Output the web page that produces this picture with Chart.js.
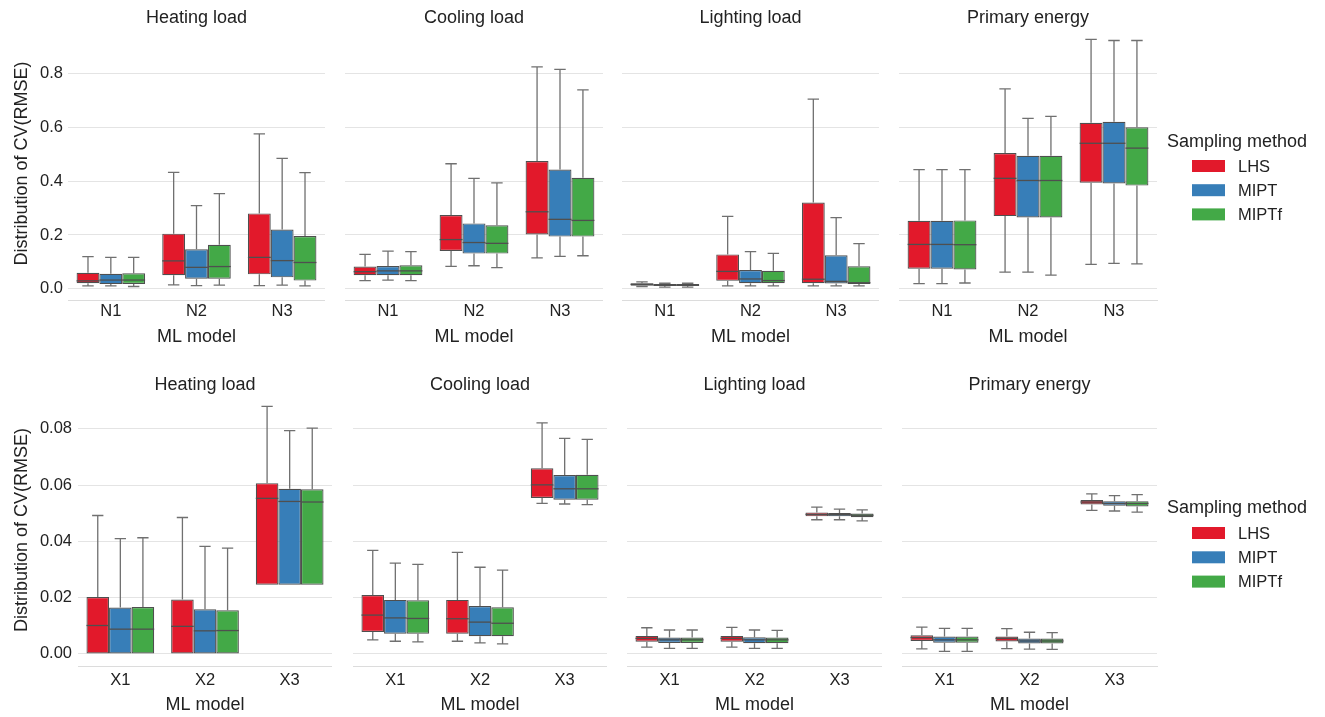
<!DOCTYPE html>
<html>
<head>
<meta charset="utf-8">
<script src="https://cdn.jsdelivr.net/npm/chart.js@4.4.1/dist/chart.umd.min.js"></script>
<style>
  html, body { margin: 0; padding: 0; background: #ffffff; width: 1325px; height: 717px; overflow: hidden; }
  canvas { position: absolute; display: block; }
</style>
</head>
<body>
<script>
// ---- Categories, groups and labels ----
const modelsN = ['N1', 'N2', 'N3'];
const modelsX = ['X1', 'X2', 'X3'];
const methods = ['LHS', 'MIPT', 'MIPTf'];
const targets = ['Heating load', 'Cooling load', 'Lighting load', 'Primary energy'];
const yTicksTop = [0, 0.2, 0.4, 0.6, 0.8];
const yTicksBottom = [0, 0.02, 0.04, 0.06, 0.08];

// ---- Box statistics per model: [lower whisker, Q1, median, Q3, upper whisker] ----
// N models
const heatingN_LHS   = [[0.011, 0.021, 0.030, 0.060, 0.120], [0.015, 0.051, 0.104, 0.205, 0.432], [0.012, 0.054, 0.117, 0.280, 0.575]];
const heatingN_MIPT  = [[0.011, 0.018, 0.033, 0.056, 0.117], [0.012, 0.038, 0.080, 0.147, 0.309], [0.014, 0.043, 0.105, 0.220, 0.484]];
const heatingN_MIPTf = [[0.009, 0.0185, 0.033, 0.058, 0.117], [0.014, 0.038, 0.083, 0.164, 0.353], [0.011, 0.031, 0.098, 0.196, 0.431]];

const coolingN_LHS   = [[0.031, 0.051, 0.064, 0.083, 0.128], [0.084, 0.141, 0.183, 0.274, 0.464], [0.115, 0.202, 0.286, 0.474, 0.823]];
const coolingN_MIPT  = [[0.033, 0.051, 0.067, 0.085, 0.140], [0.086, 0.131, 0.172, 0.243, 0.410], [0.121, 0.194, 0.258, 0.443, 0.814]];
const coolingN_MIPTf = [[0.031, 0.051, 0.067, 0.088, 0.138], [0.079, 0.131, 0.169, 0.236, 0.393], [0.123, 0.194, 0.254, 0.412, 0.738]];

const lightingN_LHS   = [[0.009, 0.012, 0.017, 0.021, 0.026], [0.011, 0.030, 0.065, 0.128, 0.269], [0.011, 0.021, 0.036, 0.320, 0.704]];
const lightingN_MIPT  = [[0.007, 0.011, 0.014, 0.018, 0.021], [0.011, 0.021, 0.037, 0.070, 0.138], [0.011, 0.020, 0.028, 0.125, 0.264]];
const lightingN_MIPTf = [[0.007, 0.011, 0.014, 0.018, 0.021], [0.011, 0.021, 0.031, 0.067, 0.132], [0.011, 0.0185, 0.023, 0.084, 0.168]];

const primaryN_LHS   = [[0.020, 0.075, 0.165, 0.253, 0.442], [0.062, 0.270, 0.410, 0.504, 0.742], [0.091, 0.394, 0.540, 0.616, 0.925]];
const primaryN_MIPT  = [[0.020, 0.075, 0.165, 0.253, 0.442], [0.062, 0.265, 0.402, 0.494, 0.632], [0.095, 0.391, 0.540, 0.620, 0.921]];
const primaryN_MIPTf = [[0.022, 0.072, 0.164, 0.254, 0.442], [0.051, 0.265, 0.402, 0.494, 0.640], [0.093, 0.383, 0.522, 0.599, 0.921]];

// X models
const heatingX_LHS   = [[0, 0, 0.0101, 0.0202, 0.0492], [0, 0, 0.0098, 0.0193, 0.0485], [0.0246, 0.0246, 0.0553, 0.0607, 0.0880]];
const heatingX_MIPT  = [[0, 0, 0.0088, 0.0165, 0.0410], [0, 0, 0.0082, 0.0159, 0.0382], [0.0246, 0.0246, 0.0542, 0.0587, 0.0794]];
const heatingX_MIPTf = [[0, 0, 0.0088, 0.0167, 0.0413], [0, 0, 0.0083, 0.0155, 0.0376], [0.0246, 0.0246, 0.0540, 0.0585, 0.0803]];

const coolingX_LHS   = [[0.0050, 0.0078, 0.0138, 0.0209, 0.0368], [0.0045, 0.0072, 0.0125, 0.0192, 0.0361], [0.0535, 0.0554, 0.0601, 0.0660, 0.0821]];
const coolingX_MIPT  = [[0.0045, 0.0072, 0.0128, 0.0192, 0.0323], [0.0039, 0.0063, 0.0113, 0.0170, 0.0308], [0.0533, 0.0548, 0.0587, 0.0636, 0.0766]];
const coolingX_MIPTf = [[0.0043, 0.0072, 0.0126, 0.0191, 0.0318], [0.0036, 0.0063, 0.0109, 0.0166, 0.0298], [0.0531, 0.0548, 0.0587, 0.0637, 0.0763]];

const lightingX_LHS   = [[0.0024, 0.0043, 0.0055, 0.0064, 0.0093], [0.0024, 0.0043, 0.0055, 0.0064, 0.0094], [0.0477, 0.0489, 0.0496, 0.0503, 0.0522]];
const lightingX_MIPT  = [[0.0020, 0.0039, 0.0050, 0.0058, 0.0085], [0.0020, 0.0038, 0.0050, 0.0059, 0.0085], [0.0477, 0.0489, 0.0495, 0.0501, 0.0515]];
const lightingX_MIPTf = [[0.0020, 0.0039, 0.0050, 0.0058, 0.0085], [0.0020, 0.0038, 0.0050, 0.0058, 0.0084], [0.0473, 0.0486, 0.0493, 0.0499, 0.0512]];

const primaryX_LHS   = [[0.0018, 0.0046, 0.0058, 0.0066, 0.0095], [0.0019, 0.0044, 0.0055, 0.0062, 0.0090], [0.0510, 0.0531, 0.0540, 0.0547, 0.0569]];
const primaryX_MIPT  = [[0.0009, 0.0040, 0.0050, 0.0062, 0.0091], [0.0017, 0.0037, 0.0046, 0.0055, 0.0077], [0.0508, 0.0527, 0.0535, 0.0543, 0.0563]];
const primaryX_MIPTf = [[0.0009, 0.0040, 0.0050, 0.0062, 0.0091], [0.0016, 0.0037, 0.0046, 0.0055, 0.0076], [0.0504, 0.0524, 0.0535, 0.0543, 0.0566]];

// ---- Styling ----
const FONT = '"Liberation Sans", Arial, Helvetica, sans-serif';
const TEXT = '#222222';
const GRID = '#e4e4e4';
const EDGE = '#4f4f4f';
const WHISKER = '#707070';
const COLORS = ['#e2192b', '#377eb8', '#43a947'];

// Whiskers, caps and median lines, placed with the chart's own scales
const boxWhiskers = {
  id: 'boxWhiskers',
  afterDatasetsDraw(chart) {
    const ctx = chart.ctx;
    const ys = chart.scales.y;
    chart.data.datasets.forEach((ds, i) => {
      const meta = chart.getDatasetMeta(i);
      meta.data.forEach((bar, j) => {
        const [lo, q1, med, q3, hi] = ds.stats[j];
        const { x, width } = bar.getProps(['x', 'width'], true);
        const cap = width / 4;
        const pLo = ys.getPixelForValue(lo), pQ1 = ys.getPixelForValue(q1);
        const pMed = ys.getPixelForValue(med), pQ3 = ys.getPixelForValue(q3);
        const pHi = ys.getPixelForValue(hi);
        ctx.save();
        ctx.lineCap = 'butt';
        ctx.strokeStyle = WHISKER;
        ctx.lineWidth = 1.3;
        ctx.beginPath();
        if (hi > q3) {
          ctx.moveTo(x, pQ3); ctx.lineTo(x, pHi);
          ctx.moveTo(x - cap, pHi); ctx.lineTo(x + cap, pHi);
        }
        if (lo < q1) {
          ctx.moveTo(x, pQ1); ctx.lineTo(x, pLo);
          ctx.moveTo(x - cap, pLo); ctx.lineTo(x + cap, pLo);
        }
        ctx.stroke();
        ctx.strokeStyle = EDGE;
        ctx.lineWidth = 1.3;
        ctx.beginPath();
        ctx.moveTo(x - width / 2, pMed); ctx.lineTo(x + width / 2, pMed);
        ctx.stroke();
        ctx.restore();
      });
    });
  }
};

// Legend drawn beside the right-most panel of each row
const sideLegend = {
  id: 'sideLegend',
  afterDraw(chart, args, opts) {
    if (!opts || !opts.show) return;
    const ctx = chart.ctx;
    ctx.save();
    ctx.fillStyle = TEXT;
    ctx.font = '18px ' + FONT;
    ctx.textAlign = 'center';
    ctx.textBaseline = 'middle';
    ctx.fillText('Sampling method', opts.titleX, opts.titleY);
    ctx.font = '16.5px ' + FONT;
    ctx.textAlign = 'left';
    methods.forEach((m, k) => {
      const cy = opts.firstY + k * opts.step;
      ctx.fillStyle = COLORS[k];
      ctx.fillRect(opts.boxX, cy - 6, 33, 12);
      ctx.fillStyle = TEXT;
      ctx.fillText(m, opts.labelX, cy + 1);
    });
    ctx.restore();
  }
};

function makePanel(cfg) {
  const canvas = document.createElement('canvas');
  canvas.width = cfg.width;
  canvas.height = cfg.height;
  canvas.style.left = cfg.left + 'px';
  canvas.style.top = cfg.top + 'px';
  canvas.style.width = cfg.width + 'px';
  canvas.style.height = cfg.height + 'px';
  document.body.appendChild(canvas);

  const datasets = methods.map((m, k) => ({
    label: m,
    data: cfg.series[k].map(s => [s[1], s[3]]),
    stats: cfg.series[k],
    backgroundColor: COLORS[k],
    borderColor: EDGE,
    borderWidth: 1.2,
    borderSkipped: false,
    categoryPercentage: 0.8,
    barPercentage: 1.0
  }));

  return new Chart(canvas, {
    type: 'bar',
    data: { labels: cfg.labels, datasets },
    plugins: [boxWhiskers, sideLegend],
    options: {
      responsive: false,
      animation: false,
      devicePixelRatio: 1,
      layout: { padding: { left: 0, right: cfg.padRight, top: 0, bottom: 0 } },
      plugins: {
        legend: { display: false },
        tooltip: { enabled: false },
        title: {
          display: true,
          text: cfg.title,
          fullSize: false,
          color: TEXT,
          font: { family: FONT, size: 18, weight: 'normal', lineHeight: 1 },
          padding: { top: cfg.titlePadTop, bottom: 0 }
        },
        sideLegend: cfg.legend || { show: false }
      },
      scales: {
        x: {
          grid: { display: false, drawTicks: false },
          border: { display: true, color: '#dcdcdc', width: 1 },
          ticks: { color: TEXT, font: { family: FONT, size: 16.5, lineHeight: 1 }, padding: cfg.xTickPad, maxRotation: 0 },
          title: {
            display: true, text: 'ML model', color: TEXT,
            font: { family: FONT, size: 18, lineHeight: 1 },
            padding: { top: 0, bottom: cfg.xTitlePad }
          },
          afterFit: s => { s.height = cfg.xAxisH; }
        },
        y: {
          min: cfg.yMin,
          max: cfg.yMax,
          afterBuildTicks: s => { s.ticks = cfg.yTicks.map(v => ({ value: v })); },
          grid: { color: GRID, lineWidth: 1, drawTicks: false },
          border: { display: false },
          ticks: {
            display: cfg.showY,
            color: TEXT,
            font: { family: FONT, size: 16.5, lineHeight: 1 },
            padding: cfg.yTickPad,
            callback: v => Number(v).toFixed(cfg.decimals)
          },
          title: {
            display: cfg.showY, text: 'Distribution of CV(RMSE)', color: TEXT,
            font: { family: FONT, size: 18, lineHeight: 1 },
            padding: { top: 13, bottom: 0 }
          },
          afterFit: s => { s.width = cfg.yAxisW; }
        }
      }
    }
  });
}

const topSeries = [
  [heatingN_LHS, heatingN_MIPT, heatingN_MIPTf],
  [coolingN_LHS, coolingN_MIPT, coolingN_MIPTf],
  [lightingN_LHS, lightingN_MIPT, lightingN_MIPTf],
  [primaryN_LHS, primaryN_MIPT, primaryN_MIPTf]
];
const bottomSeries = [
  [heatingX_LHS, heatingX_MIPT, heatingX_MIPTf],
  [coolingX_LHS, coolingX_MIPT, coolingX_MIPTf],
  [lightingX_LHS, lightingX_MIPT, lightingX_MIPTf],
  [primaryX_LHS, primaryX_MIPT, primaryX_MIPTf]
];

// Row frames: canvas left edges and plot widths
const topFrames = [
  { left: 0, width: 325, yAxisW: 68 },
  { left: 345, width: 258, yAxisW: 0 },
  { left: 622, width: 257, yAxisW: 0 },
  { left: 899, width: 426, yAxisW: 0, padRight: 168 }
];
const bottomFrames = [
  { left: 0, width: 332, yAxisW: 78 },
  { left: 353, width: 254, yAxisW: 0 },
  { left: 627, width: 255, yAxisW: 0 },
  { left: 902, width: 423, yAxisW: 0, padRight: 168 }
];

targets.forEach((t, c) => {
  const f = topFrames[c];
  makePanel({
    left: f.left, top: 0, width: f.width, height: 355,
    yAxisW: f.yAxisW, padRight: f.padRight || 0,
    title: t, titlePadTop: 9,
    labels: modelsN, series: topSeries[c],
    yMin: -0.041, yMax: 0.971, yTicks: yTicksTop, decimals: 1,
    showY: c === 0, yTickPad: 5,
    xAxisH: 55, xTickPad: 3, xTitlePad: 9,
    legend: c === 3 ? { show: true, titleX: 338, titleY: 142, boxX: 293, labelX: 339, firstY: 166, step: 24.2 } : null
  });
});

targets.forEach((t, c) => {
  const f = bottomFrames[c];
  makePanel({
    left: f.left, top: 360, width: f.width, height: 357,
    yAxisW: f.yAxisW, padRight: f.padRight || 0,
    title: t, titlePadTop: 16,
    labels: modelsX, series: bottomSeries[c],
    yMin: -0.0043, yMax: 0.0924, yTicks: yTicksBottom, decimals: 2,
    showY: c === 0, yTickPad: 6,
    xAxisH: 51, xTickPad: 6, xTitlePad: 3,
    legend: c === 3 ? { show: true, titleX: 335, titleY: 148, boxX: 290, labelX: 336, firstY: 173, step: 24.3 } : null
  });
});
</script>
</body>
</html>
